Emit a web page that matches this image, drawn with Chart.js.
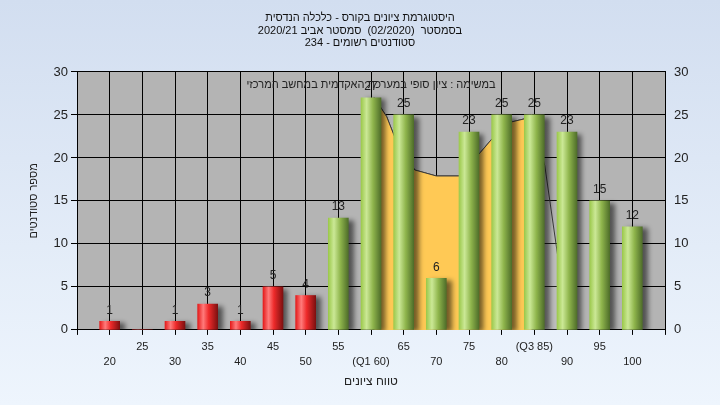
<!DOCTYPE html>
<html>
<head>
<meta charset="utf-8">
<script src="https://cdn.jsdelivr.net/npm/chart.js@4.4.0/dist/chart.umd.min.js"></script>
<style>
  html, body { margin: 0; padding: 0; }
  canvas { display: block; background: linear-gradient(#d2def0, #eef5fd); }
</style>
</head>
<body>
<canvas id="gradesChart" width="720" height="405" dir="rtl"></canvas>
<script>
// histogram data
const grades = [20, 25, 30, 35, 40, 45, 50, 55, 60, 65, 70, 75, 80, 85, 90, 95, 100];
const counts = [1, 0, 1, 3, 1, 5, 4, 13, 27, 25, 6, 23, 25, 25, 23, 15, 12];

// distribution curve behind the bars
const curveX = [59.5, 60.5, 62.4, 64, 66.7, 70, 73.5, 76.7, 78.5, 81.6, 83.8, 84.6, 86.6, 88.6, 90];
const curveY = [12.5, 27, 24.8, 21.7, 18.6, 17.9, 17.9, 20.6, 22.2, 24.2, 24.6, 25, 19.1, 8.5, 3];

const q1 = 60;
const q3 = 85;
const passFrom = 55;

const titleLines = [
  "היסטוגרמת ציונים בקורס - כלכלה הנדסית",
  "בסמסטר  (02/2020)  סמסטר אביב 2020/21",
  "סטודנטים רשומים - 234"
];
const caption = "במשימה : ציון סופי במערכת האקדמית במחשב המרכזי";
const xTitle = "טווח ציונים";
const yTitle = "מספר סטודנטים";

const FONT = "'Liberation Sans', 'DejaVu Sans', Arial, sans-serif";

const redStops = [[0, "#e41c1c"], [0.28, "#ff7b7b"], [0.55, "#ee2a2a"], [1, "#7e1010"]];
const greenStops = [[0, "#9cc94c"], [0.28, "#cbe896"], [0.6, "#8fb54c"], [1, "#4f6e2a"]];

function barFill(ctx) {
  const chart = ctx.chart;
  if (ctx.type !== "data" || !chart.chartArea) return "#999";
  const cx = chart.scales.x.getPixelForValue(ctx.raw.x);
  const g = chart.ctx.createLinearGradient(cx - 10, 0, cx + 10, 0);
  const stops = ctx.raw.x < passFrom ? redStops : greenStops;
  stops.forEach(s => g.addColorStop(s[0], s[1]));
  return g;
}

const barData = grades.map((g, i) => ({ x: g, y: counts[i] }));
const curveData = curveX.map((x, i) => ({ x: x, y: curveY[i] }));
const iqrData = curveData.filter(p => p.x >= q1 && p.x <= q3);

const plotBg = {
  id: "plotBg",
  beforeDraw(chart) {
    const { ctx, chartArea: a } = chart;
    ctx.save();
    ctx.fillStyle = "#b4b4b4";
    ctx.fillRect(a.left, a.top, a.width, a.height);
    ctx.restore();
  },
  beforeDatasetsDraw(chart) {
    const { ctx, chartArea: a } = chart;
    ctx.save();
    ctx.font = "11px " + FONT;
    ctx.fillStyle = "#222";
    ctx.textAlign = "center";
    ctx.textBaseline = "middle";
    ctx.fillText(caption, (a.left + a.right) / 2, a.top + 13);
    ctx.restore();
  },
  beforeDatasetDraw(chart, args) {
    if (args.meta.type !== "bar") return;
    const ctx = chart.ctx;
    ctx.save();
    ctx.shadowColor = "rgba(0,0,0,0.55)";
    ctx.shadowBlur = 5;
    ctx.shadowOffsetX = 5;
    ctx.shadowOffsetY = 2;
  },
  afterDatasetDraw(chart, args) {
    if (args.meta.type !== "bar") return;
    chart.ctx.restore();
  },
  afterDatasetsDraw(chart) {
    const ctx = chart.ctx;
    const meta = chart.getDatasetMeta(0);
    ctx.save();
    ctx.font = "12px " + FONT;
    ctx.fillStyle = "#222";
    ctx.textAlign = "center";
    ctx.textBaseline = "bottom";
    meta.data.forEach((el, i) => {
      if (counts[i] > 0) ctx.fillText(String(counts[i]), el.x, el.y - 5);
    });
    ctx.restore();
  }
};

const yTicks = {
  stepSize: 5,
  color: "#222",
  font: { size: 13, family: FONT },
  padding: 3
};

new Chart(document.getElementById("gradesChart"), {
  type: "bar",
  data: {
    datasets: [
      {
        type: "bar",
        data: barData,
        backgroundColor: barFill,
        barThickness: 20,
        order: 0
      },
      {
        type: "line",
        data: iqrData,
        borderColor: "#3c3c3c",
        borderWidth: 1,
        backgroundColor: "#ffc955",
        fill: "origin",
        pointRadius: 0,
        tension: 0,
        order: 1
      },
      {
        type: "line",
        data: curveData,
        borderColor: "#3c3c3c",
        borderWidth: 1,
        backgroundColor: "rgba(255,255,255,0.12)",
        fill: "origin",
        pointRadius: 0,
        tension: 0,
        order: 2
      }
    ]
  },
  options: {
    responsive: false,
    animation: false,
    layout: { padding: { left: 0, right: 0, top: 0, bottom: 16 } },
    plugins: {
      legend: { display: false },
      tooltip: { enabled: false },
      title: {
        display: true,
        text: titleLines,
        color: "#111",
        font: { size: 11, weight: "normal", family: FONT, lineHeight: 1.18 },
        padding: { top: 11, bottom: 22 }
      }
    },
    scales: {
      x: {
        type: "linear",
        min: 15,
        max: 105,
        offset: false,
        grid: { offset: false, color: "#000", tickLength: 5, tickColor: "#000" },
        border: { color: "#000" },
        ticks: {
          stepSize: 5,
          autoSkip: false,
          maxRotation: 0,
          color: "#222",
          font: { size: 11, family: FONT, lineHeight: 1.35 },
          padding: 5,
          callback: function (v) {
            if (v < 20 || v > 100) return "";
            let t = String(v);
            if (v === q1) t = "(Q1 " + v + ")";
            if (v === q3) t = "(Q3 " + v + ")";
            return (v / 5) % 2 === 1 ? [t, ""] : ["", t];
          }
        },
        title: {
          display: true,
          text: xTitle,
          color: "#222",
          font: { size: 12, family: FONT },
          padding: { top: 0, bottom: 0 }
        }
      },
      y: {
        position: "left",
        min: 0,
        max: 30,
        grid: { color: "#000", tickLength: 6, tickColor: "#000" },
        border: { color: "#000" },
        ticks: yTicks,
        title: {
          display: true,
          text: yTitle,
          color: "#222",
          font: { size: 11, family: FONT },
          padding: { top: 27, bottom: 0 }
        },
        afterFit: s => { s.width = 77; }
      },
      y2: {
        position: "right",
        min: 0,
        max: 30,
        grid: { display: false, drawTicks: true, tickLength: 6 },
        border: { color: "#000" },
        ticks: yTicks,
        afterFit: s => { s.width = 55; }
      }
    }
  },
  plugins: [plotBg]
});
</script>
</body>
</html>
